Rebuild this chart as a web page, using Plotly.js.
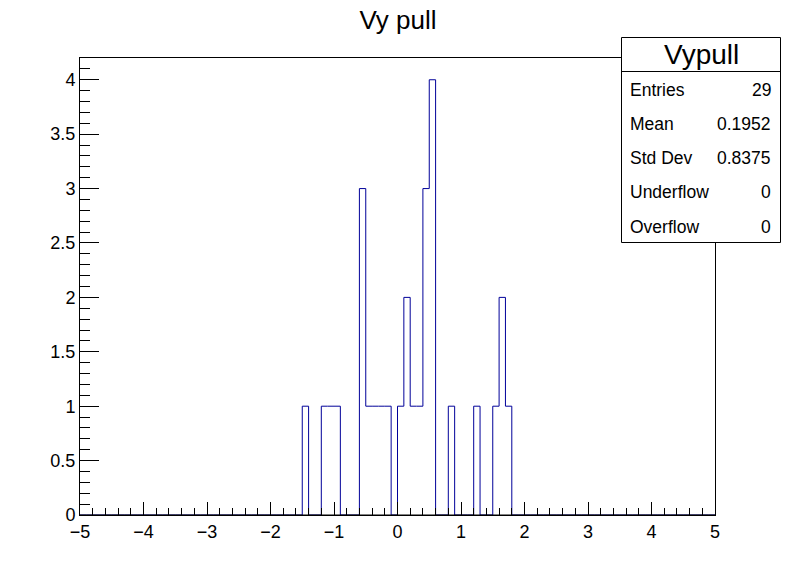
<!DOCTYPE html>
<html>
<head>
<meta charset="utf-8">
<script src="https://cdn.plot.ly/plotly-3.0.1.min.js"></script>
<style>html,body{margin:0;padding:0;background:#fff;}#chart{width:796px;height:572px;}</style>
</head>
<body>
<div id="chart"></div>
<script>
// Histogram "Vypull": 100 bins from -5 to 5; only non-empty bins listed
var xMin = -5, xMax = 5, nBins = 100;
var binLowEdges = [-1.5, -1.2, -1.1, -1.0, -0.6, -0.5, -0.4, -0.3, -0.2, 0.0, 0.1, 0.2, 0.3, 0.4, 0.5, 0.8, 1.2, 1.5, 1.6, 1.7];
var binCounts   = [1, 1, 1, 1, 3, 1, 1, 1, 1, 1, 2, 1, 1, 3, 4, 1, 1, 1, 2, 1];
var xTickVals = [-5, -4, -3, -2, -1, 0, 1, 2, 3, 4, 5];
var yTickVals = [0, 0.5, 1, 1.5, 2, 2.5, 3, 3.5, 4];
var yTickText = ["0", "0.5", "1", "1.5", "2", "2.5", "3", "3.5", "4"];
var statLabels = ["Entries", "Mean", "Std Dev", "Underflow", "Overflow"];
var statValues = ["29", "0.1952", "0.8375", "0", "0"];
var histName = "Vypull";
var titleText = "Vy pull";

var bw = (xMax - xMin) / nBins;
var counts = new Array(nBins).fill(0);
for (var i = 0; i < binLowEdges.length; i++) {
  var idx = Math.round((binLowEdges[i] - xMin) / bw);
  counts[idx] = binCounts[i];
}
var xs = [], ys = [];
for (var k = 0; k <= nBins; k++) {
  xs.push(+(xMin + k * bw).toFixed(4));
  ys.push(k < nBins ? counts[k] : counts[nBins - 1]);
}

var W = 796, H = 572, L = 80, R = 715, T = 58, B = 515;
function px(x) { return (x - L) / (R - L); }
function py(y) { return (B - y) / (B - T); }

var font = "Liberation Sans, Arial, Helvetica, sans-serif";

var trace = {
  x: xs, y: ys, type: 'scatter', mode: 'lines',
  line: {shape: 'hv', color: '#000099', width: 1},
  hoverinfo: 'skip', showlegend: false
};

var box = {x0: 621.5, x1: 780.5, y0: 37.5, y1: 242.5, sep: 71.5};
var shapes = [
  // frame bottom line drawn over the histogram's zero baseline
  {type: 'line', xref: 'paper', yref: 'paper', x0: 0, x1: 1, y0: 0, y1: 0,
   line: {color: 'black', width: 1}, layer: 'above'},
  {type: 'rect', xref: 'paper', yref: 'paper', x0: px(box.x0), x1: px(box.x1), y0: py(box.y1), y1: py(box.y0),
   line: {color: 'black', width: 1}, fillcolor: 'white', layer: 'above'},
  {type: 'line', xref: 'paper', yref: 'paper', x0: px(box.x0), x1: px(box.x1), y0: py(box.sep), y1: py(box.sep),
   line: {color: 'black', width: 1}, layer: 'above'}
];
var annotations = [
  {xref: 'paper', yref: 'paper', x: px((box.x0 + box.x1) / 2), y: py(54.5), text: histName, showarrow: false,
   xanchor: 'center', yanchor: 'middle', font: {family: font, size: 28, color: 'black'}}
];
var rowY = [90, 124, 158, 192, 227];
for (var r = 0; r < statLabels.length; r++) {
  annotations.push({xref: 'paper', yref: 'paper', x: px(628), y: py(rowY[r]), text: statLabels[r], showarrow: false,
    xanchor: 'left', yanchor: 'middle', font: {family: font, size: 17.5, color: 'black'}});
  annotations.push({xref: 'paper', yref: 'paper', x: px(773), y: py(rowY[r]), text: statValues[r], showarrow: false,
    xanchor: 'right', yanchor: 'middle', font: {family: font, size: 17.5, color: 'black'}});
}

var layout = {
  width: W, height: H,
  margin: {l: L, r: W - R, t: T, b: H - B, pad: 0},
  paper_bgcolor: 'white', plot_bgcolor: 'white',
  font: {family: font, color: 'black'},
  title: {text: titleText, x: 0.5, xref: 'container', y: 1 - 20 / H, yref: 'container',
          xanchor: 'center', yanchor: 'middle', font: {family: font, size: 26, color: 'black'}},
  xaxis: {range: [xMin, xMax], tickvals: xTickVals, ticks: 'inside', ticklen: 13, tickwidth: 1, tickcolor: 'black',
          minor: {dtick: 0.2, tick0: -5, ticks: 'inside', ticklen: 7, tickwidth: 1, tickcolor: 'black', showgrid: false},
          showline: true, mirror: true, linecolor: 'black', linewidth: 1, showgrid: false, zeroline: false,
          tickfont: {family: font, size: 18, color: 'black'}, fixedrange: true},
  yaxis: {range: [0, 4.2], tickvals: yTickVals, ticktext: yTickText, ticks: 'inside', ticklen: 19, tickwidth: 1, tickcolor: 'black',
          minor: {dtick: 0.1, tick0: 0, ticks: 'inside', ticklen: 10, tickwidth: 1, tickcolor: 'black', showgrid: false},
          showline: true, mirror: true, linecolor: 'black', linewidth: 1, showgrid: false, zeroline: false,
          tickfont: {family: font, size: 18, color: 'black'}, fixedrange: true},
  shapes: shapes,
  annotations: annotations
};

Plotly.newPlot('chart', [trace], layout, {staticPlot: true, displayModeBar: false});
</script>
</body>
</html>
